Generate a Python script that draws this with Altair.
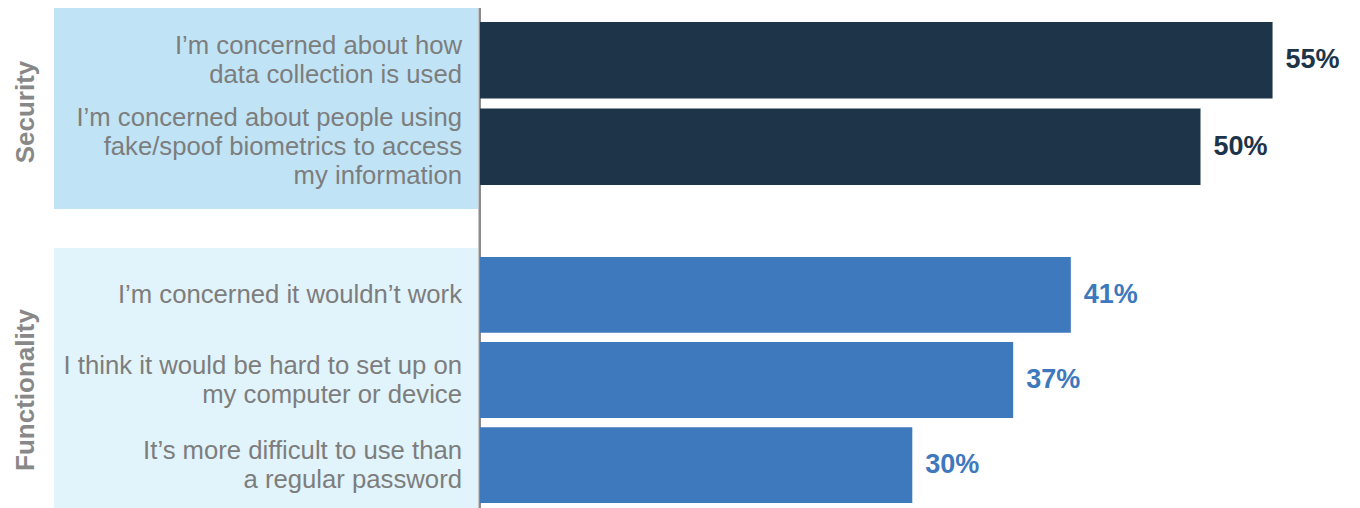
import altair as alt
import pandas as pd

# ---- data ----
group_names = ["Security", "Functionality"]
groups = ["Security", "Security", "Functionality", "Functionality", "Functionality"]
labels = [
    "I’m concerned about how\ndata collection is used",
    "I’m concerned about people using\nfake/spoof biometrics to access\nmy information",
    "I’m concerned it wouldn’t work",
    "I think it would be hard to set up on\nmy computer or device",
    "It’s more difficult to use than\na regular password",
]
values = [55, 50, 41, 37, 30]

data = pd.DataFrame({"group": groups, "label": labels, "value": values})
data["vlabel"] = data["value"].astype(str) + "%"
data["nlines"] = data["label"].str.count("\n") + 1

FONT = "Liberation Sans"
GRAY = "#7d7d7d"
LINE_H = 29
style = {
    "Security": dict(bar="#1d3449", bg="#c0e4f6", height=240, yrange=[14, 177],
                     pin=0.115, bg_h=201, gy=104),
    "Functionality": dict(bar="#3e78bd", bg="#e1f3fb", height=260, yrange=[9, 255],
                          pin=0.11, bg_h=260, gy=142),
}

xscale = alt.Scale(domain=[0, 60], range=[472, 1336.6], zero=True, nice=False)


def panel(gname):
    s = style[gname]
    df = data[data["group"] == gname]
    base = alt.Chart(df)
    yenc = alt.Y("label:N", sort=list(df["label"]), axis=None,
                 scale=alt.Scale(range=s["yrange"], paddingInner=s["pin"], paddingOuter=0))
    gdf = pd.DataFrame({"g": [gname]})

    bg = alt.Chart(gdf).mark_rect(color=s["bg"]).encode(
        x=alt.value(46), x2=alt.value(470), y=alt.value(0), y2=alt.value(s["bg_h"]))
    rule = alt.Chart(gdf).mark_rect(color="#8c8c8c").encode(
        x=alt.value(470.5), x2=alt.value(473), y=alt.value(0), y2=alt.value(s["height"]))
    bars = base.mark_bar(color=s["bar"]).encode(
        x=alt.X("value:Q", scale=xscale, axis=None), y=yenc)
    vals = base.mark_text(align="left", baseline="middle", dx=13, font=FONT, fontSize=27,
                          fontWeight="bold", color=s["bar"]).encode(
        x=alt.X("value:Q", scale=xscale, axis=None), y=yenc, text="vlabel:N")
    lab_layers = []
    for n in sorted(df["nlines"].unique()):
        lab_layers.append(
            base.transform_filter(alt.datum.nlines == int(n)).mark_text(
                align="right", baseline="middle", lineBreak="\n", lineHeight=LINE_H,
                dy=-(int(n) - 1) * LINE_H / 2, font=FONT, fontSize=25.7, color=GRAY).encode(
                x=alt.value(454), y=yenc, text="label:N"))
    glab = alt.Chart(gdf).mark_text(angle=270, align="center", baseline="middle", font=FONT,
                                    fontSize=26, fontWeight="bold", color="#888888").encode(
        x=alt.value(18), y=alt.value(s["gy"]), text="g:N")
    return alt.layer(bg, rule, bars, vals, *lab_layers, glab).properties(
        width=1344, height=s["height"])


chart = alt.vconcat(*[panel(g) for g in group_names], spacing=0, bounds="flush").properties(
    padding=0).configure_view(stroke=None)

chart.save("out.html", embed_options={"renderer": "svg", "actions": False})
